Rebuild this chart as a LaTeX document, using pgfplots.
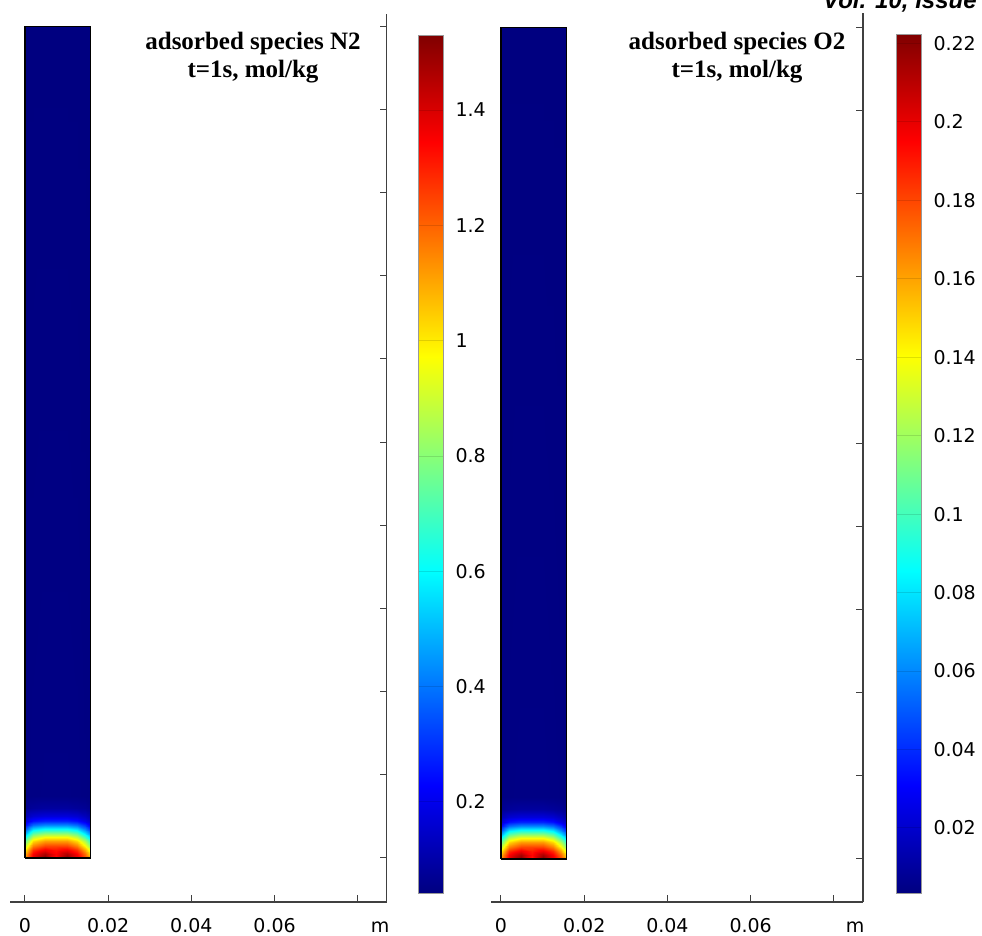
\documentclass[border=0pt]{standalone}
\usepackage{pgfplots}
\pgfplotsset{compat=1.18}
\usepackage{pgfplotstable}
\usepackage{fontspec}
\setmainfont{DejaVu Sans}
\newfontfamily\titlefont{Liberation Serif}
\newfontfamily\volfont{Liberation Sans}
\newcommand\tickfont{\fontsize{19bp}{22bp}\selectfont}
\newcommand\ttlfont{\titlefont\bfseries\fontsize{25bp}{28bp}\selectfont}

% x y (m), adsorbed N2 and O2 (mol/kg) at t=1s
\pgfplotstableread{
x y n2 o2
0 0 1.143 0.1655
0.002 0 1.381 0.2005
0.0048 0 1.530 0.2224
0.0074 0 1.322 0.1895
0.0100 0 1.515 0.2224
0.0125 0 1.381 0.2005
0.0145 0 1.232 0.1786
0.0157 0 1.084 0.1567
0 0.001 1.084 0.1567
0.002 0.001 1.351 0.1961
0.0048 0.001 1.470 0.2136
0.0074 0.001 1.351 0.1939
0.0100 0.001 1.460 0.2136
0.0125 0.001 1.351 0.1961
0.0145 0.001 1.188 0.1720
0.0157 0.001 1.024 0.1479
0 0.002 0.994 0.1436
0.002 0.002 1.277 0.1852
0.0048 0.002 1.366 0.1983
0.0074 0.002 1.322 0.1895
0.0100 0.002 1.360 0.1983
0.0125 0.002 1.277 0.1852
0.0145 0.002 1.098 0.1589
0.0157 0.002 0.935 0.1348
0 0.003 0.875 0.1260
0.002 0.003 1.158 0.1677
0.0048 0.003 1.247 0.1808
0.0074 0.003 1.247 0.1808
0.0100 0.003 1.247 0.1808
0.0125 0.003 1.158 0.1677
0.0145 0.003 0.979 0.1414
0.0157 0.003 0.816 0.1173
0 0.004 0.741 0.1063
0.002 0.004 1.024 0.1479
0.0048 0.004 1.113 0.1611
0.0074 0.004 1.113 0.1611
0.0100 0.004 1.113 0.1611
0.0125 0.004 1.024 0.1479
0.0145 0.004 0.846 0.1217
0.0157 0.004 0.682 0.0976
0 0.005 0.607 0.0866
0.002 0.005 0.875 0.1260
0.0048 0.005 0.965 0.1392
0.0074 0.005 0.965 0.1392
0.0100 0.005 0.965 0.1392
0.0125 0.005 0.875 0.1260
0.0145 0.005 0.697 0.0998
0.0157 0.005 0.548 0.0779
0 0.006 0.459 0.0647
0.002 0.006 0.712 0.1020
0.0048 0.006 0.786 0.1129
0.0074 0.006 0.786 0.1129
0.0100 0.006 0.786 0.1129
0.0125 0.006 0.712 0.1020
0.0145 0.006 0.548 0.0779
0.0157 0.006 0.414 0.0582
0 0.007 0.340 0.0472
0.002 0.007 0.548 0.0779
0.0048 0.007 0.607 0.0866
0.0074 0.007 0.607 0.0866
0.0100 0.007 0.607 0.0866
0.0125 0.007 0.548 0.0779
0.0145 0.007 0.414 0.0582
0.0157 0.007 0.295 0.0406
0 0.008 0.235 0.0319
0.002 0.008 0.384 0.0538
0.0048 0.008 0.429 0.0603
0.0074 0.008 0.429 0.0603
0.0100 0.008 0.429 0.0603
0.0125 0.008 0.384 0.0538
0.0145 0.008 0.295 0.0406
0.0157 0.008 0.206 0.0275
0 0.009 0.161 0.0209
0.002 0.009 0.250 0.0341
0.0048 0.009 0.280 0.0384
0.0074 0.009 0.280 0.0384
0.0100 0.009 0.280 0.0384
0.0125 0.009 0.250 0.0341
0.0145 0.009 0.191 0.0253
0.0157 0.009 0.146 0.0187
0 0.010 0.116 0.0144
0.002 0.010 0.161 0.0209
0.0048 0.010 0.176 0.0231
0.0074 0.010 0.176 0.0231
0.0100 0.010 0.176 0.0231
0.0125 0.010 0.161 0.0209
0.0145 0.010 0.131 0.0165
0.0157 0.010 0.102 0.0122
0 0.012 0.064 0.0067
0.002 0.012 0.079 0.0089
0.0048 0.012 0.087 0.0100
0.0074 0.012 0.087 0.0100
0.0100 0.012 0.087 0.0100
0.0125 0.012 0.079 0.0089
0.0145 0.012 0.072 0.0078
0.0157 0.012 0.060 0.0060
0 0.015 0.046 0.0041
0.002 0.015 0.048 0.0043
0.0048 0.015 0.049 0.0045
0.0074 0.015 0.049 0.0045
0.0100 0.015 0.049 0.0045
0.0125 0.015 0.048 0.0043
0.0145 0.015 0.046 0.0041
0.0157 0.015 0.045 0.0038
0 0.2 0.042 0.0034
0.002 0.2 0.042 0.0034
0.0048 0.2 0.042 0.0034
0.0074 0.2 0.042 0.0034
0.0100 0.2 0.042 0.0034
0.0125 0.2 0.042 0.0034
0.0145 0.2 0.042 0.0034
0.0157 0.2 0.042 0.0034
}\field

\pgfplotsset{
  colfield/.style={
    scale only axis, anchor=south west,
    axis x line=bottom, axis y line=right,
    axis line style={-, line width=1.1bp, black!75},
    tick align=inside, major tick length=7bp,
    tick style={black!75, line width=1bp},
    xtick={0,0.02,0.04,0.06,0.08},
    xticklabels={0,0.02,0.04,0.06,{}},
    ytick={0,0.02,0.04,0.06,0.08,0.1,0.12,0.14,0.16,0.18,0.2},
    yticklabels={},
    scaled x ticks=false, scaled y ticks=false,
    xticklabel style={anchor=base, yshift=-30bp, font=\tickfont},
    /pgf/number format/assume math mode=true,
    colormap/jet, clip=false,
    colorbar/width=25bp,
  },
  cbar/.style={
    at={(parent axis.south east)}, anchor=south west,
    yshift=9bp, width=25bp, scale only axis,
    scaled y ticks=false,
    /pgf/number format/fixed,
    /pgf/number format/assume math mode=true,
    yticklabel style={font=\tickfont, xshift=9bp},
    ytick pos=right, tick align=inside, major tick length=25bp,
    ytick style={black, opacity=0.12, line width=0.8bp},
    axis line style={black!40, line width=0.3bp},
  },
}

\begin{document}
\begin{tikzpicture}
\useasboundingbox (0,0) rectangle (982bp,936bp);

% ---------- left panel: N2 ----------
\begin{axis}[colfield, at={(10bp,34bp)}, width=376.5bp, height=888bp,
  xmin=-0.0036, xmax=0.0869, ymin=-0.01058, ymax=0.2029,
  point meta min=0.042, point meta max=1.53,
  colorbar, colorbar style={cbar, xshift=23bp, height=858bp,
    ytick={0.2,0.4,0.6,0.8,1,1.2,1.4}}]
  \addplot[surf, shader=interp, mesh/cols=8, point meta=\thisrow{n2}]
    table[x=x, y=y] {\field};
  \addplot[black, line width=1.1bp] coordinates
    {(0,0) (0.0157,0) (0.0157,0.2) (0,0.2) (0,0)};
\end{axis}

% ---------- right panel: O2 ----------
\begin{axis}[colfield, at={(491bp,34bp)}, width=372bp, height=889bp,
  xmin=-0.0024, xmax=0.0870, ymin=-0.01034, ymax=0.2034,
  point meta min=0.0034, point meta max=0.2224,
  colorbar, colorbar style={cbar, xshift=24.5bp, height=859bp,
    ytick={0.02,0.04,0.06,0.08,0.1,0.12,0.14,0.16,0.18,0.2,0.22}}]
  \addplot[surf, shader=interp, mesh/cols=8, point meta=\thisrow{o2}]
    table[x=x, y=y] {\field};
  \addplot[black, line width=1.1bp] coordinates
    {(0,0) (0.0157,0) (0.0157,0.2) (0,0.2) (0,0)};
\end{axis}

% unit labels
\node[anchor=base, font=\tickfont] at (380bp,4bp) {m};
\node[anchor=base, font=\tickfont] at (855bp,4bp) {m};

% titles
\node[anchor=base, font=\ttlfont] at (253bp,886bp) {adsorbed species N2};
\node[anchor=base, font=\ttlfont] at (253bp,858bp) {t=1s, mol/kg};
\node[anchor=base, font=\ttlfont] at (737bp,886bp) {adsorbed species O2};
\node[anchor=base, font=\ttlfont] at (737bp,858bp) {t=1s, mol/kg};

% journal header (cut off at page edge, as in the source page)
\node[anchor=base west, inner sep=0pt, font=\volfont\bfseries\itshape\fontsize{24bp}{28bp}\selectfont]
  at (823bp,927.5bp) {Vol. 10, Issue};
\end{tikzpicture}
\end{document}
